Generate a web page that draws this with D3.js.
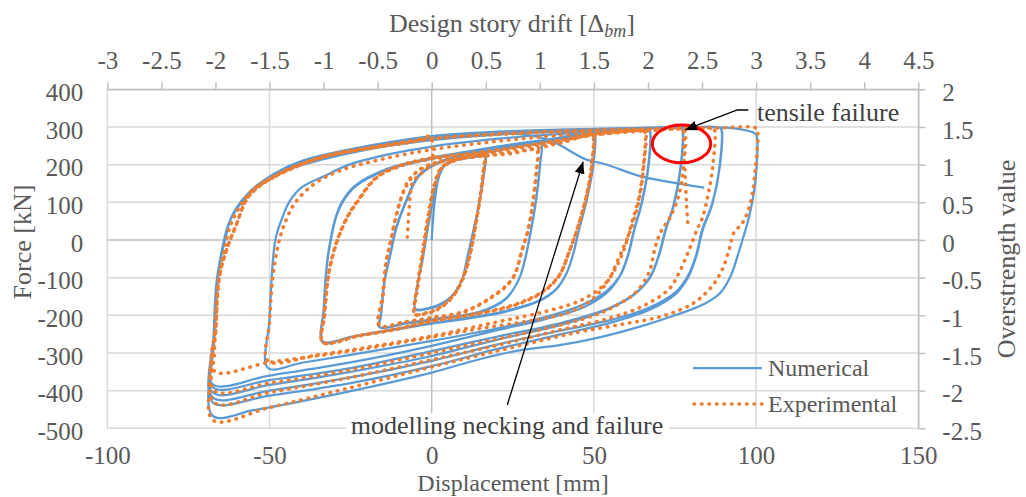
<!DOCTYPE html>
<html>
<head>
<meta charset="utf-8">
<script src="https://cdn.jsdelivr.net/npm/d3@7"></script>
<style>
  body { margin: 0; background: #fff; }
  svg { display: block; font-family: "Liberation Serif", "Times New Roman", serif; }
</style>
</head>
<body>
<script>
// tick values
const dispTicks = [-100, -50, 0, 50, 100, 150];
const forceTicks = [-500, -400, -300, -200, -100, 0, 100, 200, 300, 400];
const driftTicks = [-3, -2.5, -2, -1.5, -1, -0.5, 0, 0.5, 1, 1.5, 2, 2.5, 3, 3.5, 4, 4.5];
const overTicks = [-2.5, -2, -1.5, -1, -0.5, 0, 0.5, 1, 1.5, 2];

// Numerical series, [displacement mm, force kN]
const num16 = [
  [0,0],[1.2,120],[3,188],[6,208],[10,216],[16.2,222],[16.6,218],
  [16,172],[14.5,92],[12.5,12],[11,-45],[9.4,-104],[7,-142],[5,-160],[2,-175],[-1,-182],[-5,-185],
  [-4.4,-120],[-3,-62],[-1,40],[1.2,135],[3.8,196],[8.4,216],[16.3,225],[16.7,220],
  [16.1,175],[14.6,94],[12.6,14],[11.1,-43],[9.5,-102],[7.1,-140],[5,-158],[2,-173],[-1,-181],[-5,-183]
];
const num33 = [
  [-4.4,-120],[-3,-60],[-1,42],[1.2,137],[3.8,197],[8.4,218],[16.6,232],[25,245],[33.3,256],[33.9,252],
  [33.4,200],[32.2,110],[31,46],[29,-42],[26.9,-104],[22.8,-157],[14.6,-193],[2.2,-210],[-8,-222],[-16,-232],
  [-15.6,-200],[-14.5,-110],[-12.5,-30],[-11,28],[-8,99],[-3.9,170],[2.3,205],[10,222],[20,237],[33.3,260],[33.9,256],
  [33.5,205],[32.3,112],[31.1,48],[29.1,-40],[27,-102],[22.9,-155],[14.7,-191],[2.3,-208],[-8,-221],[-16.2,-231]
];
const num50 = [
  [-15.7,-200],[-14.6,-110],[-12.6,-30],[-11.1,28],[-8.1,100],[-4,172],[2.2,207],[10,224],[20,240],[33,258],[42,270],[49.6,280],[50.2,276],
  [49.8,200],[47.6,100],[45.4,28],[43.5,-40],[41.5,-90],[38.5,-130],[33,-163],[22,-192],[10,-210],[0,-222],[-16,-245],[-25,-258],[-33.5,-270],
  [-33.2,-180],[-32.2,-60],[-31.1,0],[-29.5,60],[-27.5,100],[-23.4,143],[-13.2,188],[0,215],[16,240],[33,262],[49.6,284],[50.3,280],
  [49.9,205],[47.7,102],[45.5,30],[43.6,-38],[41.6,-88],[38.6,-128],[33.1,-161],[22,-190],[10,-208],[0,-221],[-16,-243],[-25,-257],[-33.6,-272]
];
const num67 = [
  [-33.3,-182],[-32.3,-62],[-31.2,0],[-29.6,60],[-27.6,102],[-23.5,145],[-13.3,190],[0,218],[16,242],[33,264],[50,282],[58,288],[66.6,292],[67.2,288],
  [66.8,200],[64.6,95],[62.4,28],[60.5,-40],[58,-95],[54,-135],[47,-170],[35,-205],[20,-235],[0,-268],[-25,-305],[-40,-326],[-50.5,-340],
  [-50,-211],[-48.2,0],[-46,60],[-44,100],[-40,140],[-33,170],[-25.5,200],[-13,228],[0,248],[16,265],[33,278],[50,287],[66.6,294],[67.3,290],
  [66.9,200],[64.7,95],[62.5,28],[60.6,-40],[58.1,-95],[54,-140],[47,-178],[35,-210],[20,-240],[0,-281],[-25,-325],[-50,-360],[-67.5,-383]
];
const num77 = [
  [-67,-250],[-66.3,-120],[-64.5,-20],[-62.5,45],[-59,95],[-54,140],[-45,185],[-33,215],[-20,240],[0,265],[25,282],[50,291],[76.6,297],[77.2,293],
  [76.8,200],[74.6,95],[72.1,28],[70,-40],[67.5,-95],[63,-140],[55,-180],[40,-220],[20,-257],[0,-295],[-25,-340],[-50,-372],[-67.5,-391],
  [-67,-250],[-66.2,-110],[-64.5,-20],[-62,55],[-58,110],[-52,150],[-42,195],[-29,230],[-13,256],[0,270],[25,285],[50,292],[76.6,298],[77.3,294],
  [76.9,200],[74.7,95],[72.2,28],[70.1,-40],[67.3,-100],[62,-148],[54,-185],[40,-225],[20,-265],[0,-308],[-25,-350],[-50,-385],[-67.5,-405]
];
const num89 = [
  [-67,-250],[-66,-100],[-64.5,-20],[-62,55],[-57.5,115],[-51,160],[-41,203],[-29,232],[-13,258],[0,273],[25,287],[50,293],[77,298],[88.6,299],[89.2,295],
  [88.8,200],[86.4,95],[83.4,28],[81.5,-40],[79,-95],[75,-140],[67,-180],[55,-213],[40,-240],[20,-278],[0,-321],[-25,-365],[-50,-400],[-67.5,-418],
  [-67.2,-250],[-66.3,-110],[-64.5,-25],[-61.8,60],[-57.3,117],[-51.2,161],[-40.9,205],[-28.6,232],[-13.2,258],[0,275],[25,288],[50,294],[77,298],[88.6,299],[89.3,295],
  [88.9,200],[86.5,95],[83.6,28],[81.5,-45],[79,-100],[75,-145],[67,-186],[55,-220],[40,-250],[20,-290],[0,-335],[-25,-380],[-50,-413],[-67.5,-431]
];
const num100 = [
  [-67,-250],[-66,-100],[-64.2,-15],[-61.5,64],[-57,120],[-51,163],[-41,207],[-29,234],[-13,260],[0,276],[25,289],[50,295],[77,299],[89,299],[95,294],[99.6,283],[100.2,276],
  [99.7,150],[97.8,60],[95.8,0],[94.2,-45],[92.2,-95],[89,-140],[84,-170],[75,-200],[65,-228],[50,-262],[39,-280],[27,-293],[15,-316],[0,-352],[-20,-392],[-40,-428],[-55,-452],[-67.5,-467]
];
const numNecking = [
  [-67,-260],[-66,-100],[-64,-10],[-61.5,64],[-57,118],[-51,162],[-41,206],[-29,233],[-13,259],[0,272],[16,279],[28,281],[35,268],[39,254],[47.5,214],[53.6,201],[64,170],[74,153],[84,139]
];

// Experimental series
const exp16 = [
  [-7.5,8],[-6.8,100],[-6,150],[-4.5,168],[-3,178],[0,198],[5,213],[10,220],[15.8,225],[16.4,221],
  [16,190],[15,120],[13.5,40],[12,-30],[10.5,-80],[8,-130],[5,-165],[1,-188],[-2,-196],[-5,-198],
  [-4.2,-120],[-2.8,-40],[-1,60],[0.8,140],[3,190],[7,210],[16,226],[16.5,221],
  [16.1,190],[15.1,120],[13.6,40],[12.1,-30],[10.6,-80],[8.1,-130],[5,-163],[1,-186],[-2,-194],[-5.2,-197]
];
const exp33 = [
  [-4.4,-120],[-3,-40],[-1.2,60],[0.6,140],[2.8,190],[7,212],[16,226],[25,232],[32,240],[32.6,236],
  [32.2,180],[31,90],[29.5,20],[27.9,-25],[24.8,-104],[17.7,-157],[9.4,-193],[0,-208],[-8,-218],[-16,-228],
  [-15,-150],[-14,-60],[-12.5,0],[-11,60],[-9.5,110],[-7,160],[-3,190],[3,208],[15,222],[25,230],[32.2,242],[32.8,238],
  [32.3,180],[31.1,92],[29.6,22],[28,-23],[24.9,-102],[17.8,-155],[9.5,-191],[0,-206],[-8,-217],[-16.2,-227]
];
const exp50 = [
  [-15.2,-150],[-14.1,-60],[-12.6,0],[-10.5,80],[-8,140],[-4,185],[2,207],[15,224],[30,240],[40,258],[49,279],[49.7,275],
  [49.3,200],[47.5,110],[44.8,28],[42.3,-33],[39.2,-96],[34,-140],[25,-175],[12,-200],[0,-216],[-10,-236],[-22,-254],[-33.5,-272],
  [-33,-200],[-31.5,-80],[-29,0],[-26,60],[-23,100],[-17,165],[-10,195],[0,215],[15,230],[30,248],[40,262],[49,282],[49.8,278],
  [49.4,200],[47.6,112],[44.9,30],[42.4,-31],[39.3,-94],[34,-138],[25,-173],[12,-198],[0,-215],[-10,-235],[-22,-253],[-33.6,-271]
];
const exp66 = [
  [-33.1,-200],[-31.6,-80],[-29.1,0],[-26,62],[-23,102],[-17,167],[-10,197],[0,218],[15,234],[30,252],[45,272],[55,284],[65,290],[65.7,286],
  [65.3,200],[63.8,110],[61.5,40],[59.5,-20],[57,-70],[53,-120],[46,-160],[35,-190],[20,-218],[0,-255],[-20,-285],[-35,-305],[-50.5,-321],
  [-50,-220],[-49,-100],[-47.5,-20],[-45.5,40],[-42,100],[-36,150],[-28,185],[-15,215],[0,240],[20,262],[40,278],[55,286],[65.2,290],[65.9,286],
  [65.4,200],[64,110],[62.2,50],[60.8,15],[57.1,-59],[54.7,-104],[49.5,-157],[42.3,-192],[30,-215],[15,-235],[0,-258],[-25,-295],[-50,-325],[-67,-348]
];
const exp78 = [
  [-66.5,-220],[-65.5,-100],[-64,-30],[-62,40],[-59,90],[-55,135],[-48,170],[-34,219],[-18,245],[-5,262],[-0.3,275],[0.2,250],[0.6,222],[10,224],[20,236],[30,250],[40,265],[50,279],[65,289],[77.5,293],[78.1,288],
  [77.7,200],[76.2,120],[73.5,60],[71,28],[69,-16],[67,-86],[62.9,-139],[56.7,-175],[49.5,-202],[35,-235],[15,-272],[0,-300],[-25,-345],[-50,-380],[-67,-400]
];
const exp87 = [
  [-66.5,-230],[-65.5,-100],[-63.5,-33],[-60.4,37],[-56.3,117],[-48,170],[-33.7,219],[-18.3,245],[0,268],[25,282],[50,290],[67,294],[86.6,296],[87.2,291],
  [86.7,200],[85.2,120],[83.5,60],[81.8,28],[79.4,-25],[76.3,-86],[73.2,-130],[65,-176],[54.7,-208],[40,-238],[20,-280],[0,-318],[-25,-365],[-50,-405],[-67,-432]
];
const exp100 = [
  [-66.5,-230],[-65.5,-100],[-63.5,-33],[-60.4,37],[-56.3,117],[-48,172],[-33.7,221],[-18.3,247],[0,270],[25,284],[50,292],[70,295],[87,297],[99.8,298],[100.4,292],
  [99.9,200],[98.3,100],[95.8,45],[93.2,20],[91.7,-25],[89.6,-78],[86.5,-122],[82.4,-157],[78.3,-179],[70,-205],[59.8,-222],[45,-245],[25,-285],[0,-337],[-25,-392],[-50,-445],[-67.5,-478]
];
const expFailure = [
  [-67,-300],[-66.5,-200],[-65.5,-100],[-63.5,-33],[-60.4,37],[-56.3,117],[-48,170],[-33.7,219],[-18.3,245],[0,268],[25,283],[50,291],[70,295],[77.2,296],[77.6,290],[77.8,240],[78.2,160],[78.6,90],[79,36]
];

const numerical = [].concat(num16, num33, num50, num67, num77, num89, num100, numNecking);
const experimental = [].concat(exp16, exp33, exp50, exp66, exp78, exp87, exp100, expFailure);

// layout
const width = 1026, height = 497;
const plot = {left: 107.3, right: 918.3, top: 89.3, bottom: 428.3};
const blue = "#5b9bd5", orange = "#ed7d31";
const textColor = "#595959";

const svg = d3.select("body").append("svg")
  .attr("width", width)
  .attr("height", height);

svg.append("rect").attr("width", width).attr("height", height).attr("fill", "#fff");

const x = d3.scaleLinear().domain([-100, 150]).range([plot.left, plot.right]);
const y = d3.scaleLinear().domain([-500, 400]).range([plot.bottom, plot.top]);
const xTop = d3.scaleLinear().domain([-3, 4.5]).range([plot.left, plot.right]);
const yRight = d3.scaleLinear().domain([-2.5, 2]).range([plot.bottom, plot.top]);

// gridlines
const grid = svg.append("g");
grid.selectAll(".hg").data(forceTicks.filter(d => d !== 0)).enter().append("line")
  .attr("x1", plot.left).attr("x2", plot.right)
  .attr("y1", d => y(d)).attr("y2", d => y(d))
  .attr("stroke", "#d9d9d9").attr("stroke-width", 1.5);
grid.selectAll(".vg").data(dispTicks.filter(d => d !== 0)).enter().append("line")
  .attr("y1", plot.top).attr("y2", plot.bottom)
  .attr("x1", d => x(d)).attr("x2", d => x(d))
  .attr("stroke", "#d9d9d9").attr("stroke-width", 1.5);
// zero axes
grid.append("line").attr("x1", plot.left).attr("x2", plot.right)
  .attr("y1", y(0)).attr("y2", y(0)).attr("stroke", "#bfbfbf").attr("stroke-width", 1.5);
grid.append("line").attr("x1", x(0)).attr("x2", x(0))
  .attr("y1", plot.top).attr("y2", plot.bottom).attr("stroke", "#bfbfbf").attr("stroke-width", 1.5);

function styleAxis(g, size) {
  g.selectAll("text").attr("fill", textColor).style("font-size", size + "px")
    .style("font-family", '"Liberation Serif", "Times New Roman", serif');
  g.selectAll(".tick line").attr("stroke", "#bfbfbf").attr("stroke-width", 1.5);
}

// left labels (force)
svg.append("g")
  .attr("transform", `translate(${plot.left},0)`)
  .call(d3.axisLeft(y).tickValues(forceTicks).tickSize(0).tickPadding(24).tickFormat(d => String(d)))
  .call(g => g.select(".domain").remove())
  .call(g => styleAxis(g, 25))
  .call(g => g.selectAll("text").attr("dy", "0.45em"));

// bottom labels (displacement)
svg.append("g")
  .attr("transform", `translate(0,${plot.bottom})`)
  .call(d3.axisBottom(x).tickValues(dispTicks).tickSize(0).tickPadding(18).tickFormat(d => String(d)))
  .call(g => g.select(".domain").remove())
  .call(g => styleAxis(g, 25));

// top axis (drift)
svg.append("g")
  .attr("transform", `translate(0,${plot.top})`)
  .call(d3.axisTop(xTop).tickValues(driftTicks).tickSize(7).tickPadding(13).tickSizeOuter(0).tickFormat(d => String(d)))
  .call(g => g.select(".domain").attr("stroke", "#bfbfbf").attr("stroke-width", 1.5))
  .call(g => styleAxis(g, 25));

// right axis (overstrength)
svg.append("g")
  .attr("transform", `translate(${plot.right},0)`)
  .call(d3.axisRight(yRight).tickValues(overTicks).tickSize(7).tickPadding(17).tickSizeOuter(0).tickFormat(d => String(d)))
  .call(g => g.select(".domain").attr("stroke", "#bfbfbf").attr("stroke-width", 1.5))
  .call(g => styleAxis(g, 25))
  .call(g => g.selectAll("text").attr("dy", "0.45em"));

// axis titles
svg.append("text")
  .attr("x", 513).attr("y", 491)
  .attr("text-anchor", "middle").attr("fill", textColor).style("font-size", "24px")
  .text("Displacement [mm]");

const topTitle = svg.append("text")
  .attr("x", 512).attr("y", 32)
  .attr("text-anchor", "middle").attr("fill", textColor).style("font-size", "26px");
topTitle.append("tspan").text("Design story drift [Δ");
topTitle.append("tspan").attr("font-style", "italic").style("font-size", "18px").attr("dy", 5).text("bm");
topTitle.append("tspan").attr("dy", -5).text("]");

svg.append("text")
  .attr("transform", "translate(31,242) rotate(-90)")
  .attr("text-anchor", "middle").attr("fill", textColor).style("font-size", "26px")
  .text("Force [kN]");

svg.append("text")
  .attr("transform", "translate(1015,259) rotate(-90)")
  .attr("text-anchor", "middle").attr("fill", textColor).style("font-size", "26px")
  .text("Overstrength value");

// series
const line = d3.line()
  .x(d => x(d[0]))
  .y(d => y(d[1]))
  .curve(d3.curveCatmullRom.alpha(0.5));

svg.append("path")
  .datum(numerical)
  .attr("d", line)
  .attr("fill", "none")
  .attr("stroke", blue)
  .attr("stroke-width", 2.25)
  .attr("stroke-linejoin", "round");

svg.append("path")
  .datum(experimental)
  .attr("d", line)
  .attr("fill", "none")
  .attr("stroke", orange)
  .attr("stroke-width", 3.6)
  .attr("stroke-linecap", "round")
  .attr("stroke-dasharray", "0.5 7");

// legend
const legend = svg.append("g");
legend.append("line").attr("x1", 693).attr("x2", 762).attr("y1", 368).attr("y2", 368)
  .attr("stroke", blue).attr("stroke-width", 2.25);
legend.append("text").attr("x", 768).attr("y", 376).attr("fill", textColor)
  .style("font-size", "24px").text("Numerical");
legend.append("line").attr("x1", 694).attr("x2", 762).attr("y1", 404).attr("y2", 404)
  .attr("stroke", orange).attr("stroke-width", 3.6)
  .attr("stroke-linecap", "round").attr("stroke-dasharray", "0.5 7");
legend.append("text").attr("x", 768).attr("y", 412).attr("fill", textColor)
  .style("font-size", "24px").text("Experimental");

// annotations
const defs = svg.append("defs");
defs.append("marker")
  .attr("id", "arrow")
  .attr("viewBox", "0 0 12 10")
  .attr("refX", 12).attr("refY", 5)
  .attr("markerWidth", 12).attr("markerHeight", 10)
  .attr("markerUnits", "userSpaceOnUse")
  .attr("orient", "auto")
  .append("path").attr("d", "M0,0 L12,5 L0,10 Z").attr("fill", "#000");

// red circle around the tensile failure
svg.append("ellipse")
  .attr("cx", x(77)).attr("cy", y(255))
  .attr("rx", x(86) - x(77)).attr("ry", y(205) - y(255))
  .attr("fill", "none").attr("stroke", "#ff0000").attr("stroke-width", 3);

svg.append("path")
  .attr("d", `M${x(97.6)},${y(345)} L${x(94.2)},${y(345)} L${x(78.1)},${y(292)}`)
  .attr("fill", "none").attr("stroke", "#000").attr("stroke-width", 1.3)
  .attr("marker-end", "url(#arrow)");

svg.append("text")
  .attr("x", 757).attr("y", 121)
  .attr("fill", "#404040").style("font-size", "26px")
  .text("tensile failure");

svg.append("rect")
  .attr("x", 346).attr("y", 413).attr("width", 323).attr("height", 27)
  .attr("fill", "#fff");
svg.append("text")
  .attr("x", 507).attr("y", 434)
  .attr("text-anchor", "middle")
  .attr("fill", "#404040").style("font-size", "26px")
  .text("modelling necking and failure");

svg.append("line")
  .attr("x1", x(23.3)).attr("y1", y(-438))
  .attr("x2", x(46.7)).attr("y2", y(207.7))
  .attr("stroke", "#000").attr("stroke-width", 1.3)
  .attr("marker-end", "url(#arrow)");
</script>
</body>
</html>
